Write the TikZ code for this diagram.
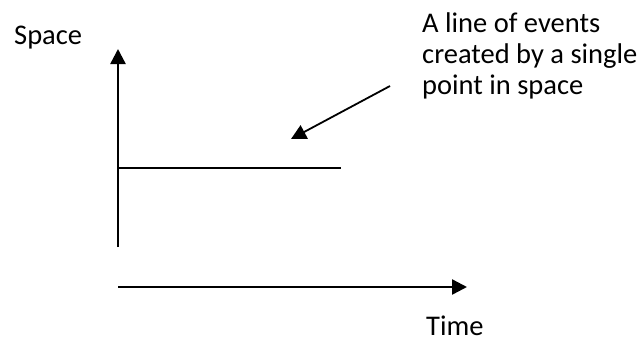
\documentclass[tikz,border=0pt]{standalone}
\usepackage{fontspec}
\setmainfont{Carlito}
\usetikzlibrary{arrows.meta}
\begin{document}
\begin{tikzpicture}[x=1pt,y=-1pt,
  lbl/.style={inner sep=0pt,anchor=base west,font=\fontsize{28.5}{31}\selectfont},
  axis/.style={line width=2.4pt,-{Triangle[length=15pt,width=15pt]}},
  pointer/.style={line width=1.8pt,-{Triangle[length=15pt,width=15pt]}},
  plain/.style={line width=1.8pt}]
\useasboundingbox (0,0) rectangle (644,341);
\coordinate (vbot) at (118,247);
\coordinate (vtop) at (118,49);
\coordinate (lstart) at (118,168);
\coordinate (lend) at (341,168);
\coordinate (tstart) at (118,287);
\coordinate (tend) at (467,287);
\coordinate (pstart) at (390,86);
\coordinate (pend) at (291,139);
\draw[axis] (vbot) -- (vtop);
\draw[plain] (lstart) -- (lend);
\draw[axis] (tstart) -- (tend);
\draw[pointer] (pstart) -- (pend);
\node[lbl] (space) at (14,44) {Space};
\node[lbl,align=left] (note) at (422,94) {A line of events\\created by a single\\point in space};
\node[lbl] (time) at (426,335) {Time};
\end{tikzpicture}
\end{document}
